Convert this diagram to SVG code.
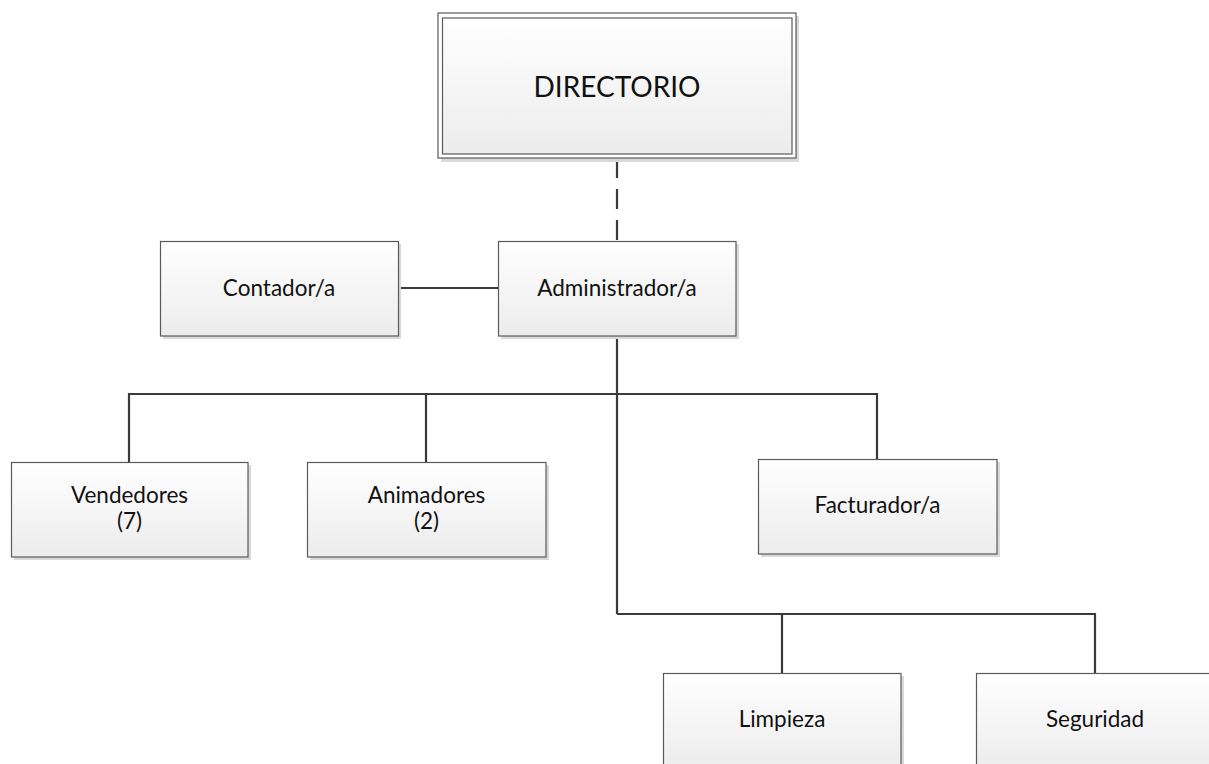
<svg xmlns="http://www.w3.org/2000/svg" width="1209" height="764" viewBox="0 0 1209 764">
<defs>
<linearGradient id="boxgrad" x1="0" y1="0" x2="0" y2="1">
<stop offset="0" stop-color="#ffffff"/>
<stop offset="1" stop-color="#ececec"/>
</linearGradient>
<style>
.shadow{fill:#d9d9d9;stroke:none;}
.box{fill:url(#boxgrad);stroke:#5a5a5a;stroke-width:1.2;}
.lbl{font-family:Lato,"Open Sans","Liberation Sans",sans-serif;font-size:22.5px;fill:#111;text-anchor:middle;}
.big{font-size:28px;}
.conn{fill:none;stroke:#3a3a3a;stroke-width:2.2;}
.dash{stroke-dasharray:20 11;}
</style>
</defs>
<rect width="1209" height="764" fill="#ffffff"/>
<g id="connectors">
<line class="conn dash" x1="617" y1="158" x2="617" y2="241"/>
<line class="conn" x1="398" y1="288" x2="498" y2="288"/>
<line class="conn" x1="617" y1="336" x2="617" y2="614"/>
<polyline class="conn" points="129,462 129,394 877,394 877,459"/>
<line class="conn" x1="426" y1="394" x2="426" y2="462"/>
<polyline class="conn" points="617,614 1095,614 1095,673"/>
<line class="conn" x1="782" y1="614" x2="782" y2="673"/>
</g>
<g id="directorio">
<rect class="shadow" x="441" y="16" width="358" height="146"/>
<rect x="438" y="13" width="358" height="145" fill="#ffffff" stroke="#5a5a5a" stroke-width="1.2"/>
<rect class="box" x="442.5" y="18" width="349.5" height="136"/>
<text class="lbl big" x="617" y="97">DIRECTORIO</text>
</g>
<g id="contador">
<rect class="shadow" x="163" y="244" width="238" height="95"/>
<rect class="box" x="160.5" y="241.5" width="238" height="94.5"/>
<text class="lbl" x="279" y="296">Contador/a</text>
</g>
<g id="administrador">
<rect class="shadow" x="501" y="244" width="238" height="95"/>
<rect class="box" x="498.5" y="241.5" width="237.5" height="94.5"/>
<text class="lbl" x="617" y="296">Administrador/a</text>
</g>
<g id="vendedores">
<rect class="shadow" x="14" y="465" width="237" height="95"/>
<rect class="box" x="11.5" y="462.5" width="236.5" height="94.5"/>
<text class="lbl" x="129.5" y="503">Vendedores</text>
<text class="lbl" x="129.5" y="529">(7)</text>
</g>
<g id="animadores">
<rect class="shadow" x="310" y="465" width="239" height="95"/>
<rect class="box" x="307.5" y="462.5" width="238.5" height="94.5"/>
<text class="lbl" x="426.5" y="503">Animadores</text>
<text class="lbl" x="426.5" y="529">(2)</text>
</g>
<g id="facturador">
<rect class="shadow" x="761" y="462" width="239" height="95"/>
<rect class="box" x="758.5" y="459.5" width="238.5" height="94.5"/>
<text class="lbl" x="877.5" y="513">Facturador/a</text>
</g>
<g id="limpieza">
<rect class="shadow" x="666" y="676" width="238" height="95"/>
<rect class="box" x="663.5" y="673.5" width="237.5" height="94.5"/>
<text class="lbl" x="782" y="727">Limpieza</text>
</g>
<g id="seguridad">
<rect class="shadow" x="979" y="676" width="238" height="95"/>
<rect class="box" x="976.5" y="673.5" width="237.5" height="94.5"/>
<text class="lbl" x="1095" y="727">Seguridad</text>
</g>
</svg>
